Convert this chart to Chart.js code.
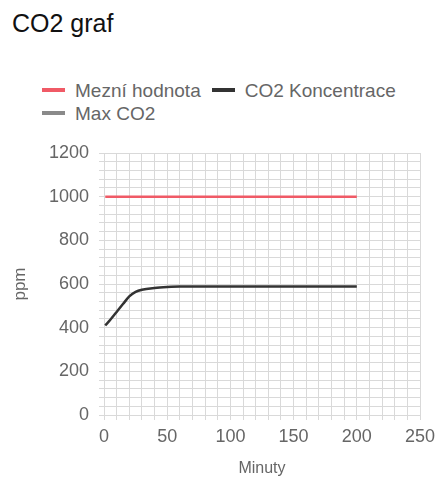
<!DOCTYPE html>
<html>
<head>
<meta charset="utf-8">
<script src="https://cdn.jsdelivr.net/npm/chart.js@4/dist/chart.umd.min.js"></script>
<style>
  html, body { margin: 0; padding: 0; background: #fff; }
  body { width: 437px; height: 482px; position: relative; overflow: hidden; font-family: Arial, "Liberation Sans", sans-serif; }
  #titulek { position: absolute; left: 12px; top: 9px; font-size: 25px; color: #111; }
  #legenda { position: absolute; left: 42px; top: 79px; width: 385px; font-size: 19px; color: #666; line-height: 23px; }
  .polozka { display: inline-block; margin-right: 11px; white-space: nowrap; }
  .znacka { display: inline-block; width: 23px; height: 4px; vertical-align: middle; margin-right: 10px; position: relative; top: -2px; }
  #graf { position: absolute; left: 0; top: 0; }
</style>
</head>
<body>
<div id="titulek">CO2 graf</div>
<div id="legenda"></div>
<canvas id="graf" width="437" height="482"></canvas>
<script>
// ===== Data =====
const minutyMez = [1, 200];
const mezniHodnota = [1000, 1000];

const minutyCO2 = [1, 5, 10, 15, 20, 25, 30, 40, 50, 60, 80, 100, 150, 200];
const koncentraceCO2 = [410, 436, 472, 508, 543, 564, 574, 582, 586, 588, 588, 588, 588, 588];

const minutyMax = [];
const maxCO2 = [];

const popisky = ['Mezní hodnota', 'CO2 Koncentrace', 'Max CO2'];
const barvy = ['#f05a66', '#333333', '#8a8a8a'];

const body = (xs, ys) => xs.map((x, i) => ({ x, y: ys[i] }));

// ===== Legenda (HTML, kvuli zarovnani vlevo) =====
const leg = document.getElementById('legenda');
popisky.forEach((p, i) => {
    const s = document.createElement('span');
    s.className = 'polozka';
    s.innerHTML = `<span class="znacka" style="background:${barvy[i]}"></span>${p}`;
    leg.appendChild(s);
});

const mrizka = '#d9d9d9';
const textBarva = '#666';
const pismo = { family: 'Arial, "Liberation Sans", sans-serif', size: 18 };

new Chart(document.getElementById('graf'), {
    type: 'line',
    data: {
        datasets: [
            { label: popisky[0], data: body(minutyMez, mezniHodnota), borderColor: barvy[0], borderWidth: 2.5, pointRadius: 0 },
            { label: popisky[1], data: body(minutyCO2, koncentraceCO2), borderColor: barvy[1], borderWidth: 2.5, pointRadius: 0, cubicInterpolationMode: 'monotone' },
            { label: popisky[2], data: body(minutyMax, maxCO2), borderColor: barvy[2], borderWidth: 2.5, pointRadius: 0 }
        ]
    },
    options: {
        responsive: false,
        animation: false,
        layout: { padding: { top: 153, right: 17, left: 0, bottom: 0 } },
        plugins: { legend: { display: false }, tooltip: { enabled: false } },
        scales: {
            x: {
                type: 'linear',
                min: 0, max: 250,
                afterFit: s => { s.height = 67; s.paddingRight = 0; },
                grid: { color: mrizka, tickColor: mrizka, tickLength: 5 },
                border: { color: mrizka },
                ticks: {
                    stepSize: 10, autoSkip: false, maxRotation: 0, padding: 6,
                    color: textBarva, font: pismo,
                    callback: v => (v % 50 === 0 ? v : '')
                },
                title: { display: true, text: 'Minuty', color: textBarva, font: { family: pismo.family, size: 16 }, padding: { top: 7 } }
            },
            y: {
                min: 0, max: 1200,
                afterFit: s => { s.width = 104; },
                grid: { color: mrizka, tickColor: mrizka, tickLength: 5 },
                border: { color: mrizka },
                ticks: {
                    stepSize: 40, autoSkip: false, padding: 10,
                    color: textBarva, font: pismo,
                    callback: v => (v % 200 === 0 ? v : '')
                },
                title: { display: true, text: 'ppm', color: textBarva, font: { family: pismo.family, size: 17 }, padding: { top: 10, bottom: 0 } }
            }
        }
    }
});
</script>
</body>
</html>
